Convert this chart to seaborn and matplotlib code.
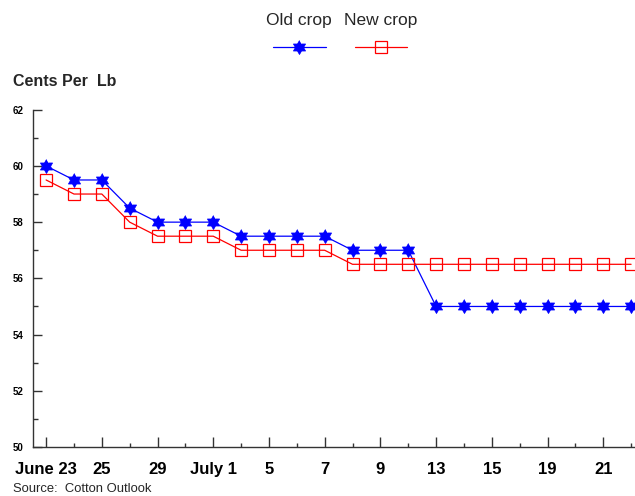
import numpy as np
import matplotlib
matplotlib.use('Agg')
import matplotlib.pyplot as plt
from matplotlib.lines import Line2D
from matplotlib.ticker import MultipleLocator
import pandas as pd
import seaborn as sns

# trading days shown on the axis
days = ['June 23', '24', '25', '26', '29', '30', 'July 1', '2', '5', '6', '7',
        '8', '9', '12', '13', '14', '15', '16', '19', '20', '21', '22']
old_crop = [60, 59.5, 59.5, 58.5, 58, 58, 58, 57.5, 57.5, 57.5, 57.5,
            57, 57, 57, 55, 55, 55, 55, 55, 55, 55, 55]
new_crop = [59.5, 59, 59, 58, 57.5, 57.5, 57.5, 57, 57, 57, 57,
            56.5, 56.5, 56.5, 56.5, 56.5, 56.5, 56.5, 56.5, 56.5, 56.5, 56.5]

df = pd.DataFrame({'pos': np.arange(len(days)), 'day': days,
                   'Old crop': old_crop, 'New crop': new_crop})

sns.set_style('ticks')
plt.rcParams['font.family'] = ['Liberation Sans', 'DejaVu Sans']

# six pointed star (hexagram) marker outline
ang = np.pi / 2 + np.arange(12) * np.pi / 6
rad = np.where(np.arange(12) % 2 == 0, 1.0, 1 / np.sqrt(3))
star = list(zip(rad * np.cos(ang), rad * np.sin(ang)))

fig = plt.figure(figsize=(6.35, 4.96), dpi=100)
ax = fig.add_axes([0.052, 0.0988, 0.948, 0.680])

sns.lineplot(data=df, x='pos', y='Old crop', ax=ax, color='#0000ff', lw=0.9,
             marker=star, ms=10, mfc='#0000ff', mec='#0000ff', mew=0.6)
sns.lineplot(data=df, x='pos', y='New crop', ax=ax, color='#ff0000', lw=0.9,
             marker='s', ms=9, mfc='none', mec='#ff0000', mew=0.9)

ax.set_xlim(-0.47, 21.14)
ax.set_ylim(50, 62)
ax.set_xticks(df['pos'][::2])
ax.set_xticklabels(days[::2], fontsize=12, fontweight='bold')
ax.set_xticks(df['pos'][1::2], minor=True)
ax.yaxis.set_major_locator(MultipleLocator(2))
ax.yaxis.set_minor_locator(MultipleLocator(1))
for lab in ax.get_yticklabels():
    lab.set_fontsize(7)
    lab.set_fontweight('bold')
ax.tick_params(axis='both', which='both', direction='in', colors='#333333',
               width=1)
ax.tick_params(axis='x', which='major', length=7, pad=11, labelcolor='black')
ax.tick_params(axis='x', which='minor', length=3)
ax.tick_params(axis='y', which='major', length=6.5, pad=7, labelcolor='black')
ax.tick_params(axis='y', which='minor', length=3.5)
ax.set_xlabel('')
ax.set_ylabel('')
sns.despine(ax=ax)
for s in ['left', 'bottom']:
    ax.spines[s].set_color('#333333')
    ax.spines[s].set_linewidth(1)

fig.text(13 / 635, 1 - 81 / 496, 'Cents Per  Lb', fontsize=11.5,
         fontweight='bold', va='center', ha='left')
fig.text(13 / 635, 1 - 489 / 496, 'Source:  Cotton Outlook', fontsize=9.4,
         va='center', ha='left')

# legend: labels above line handles
fig.text(299 / 635, 1 - 20 / 496, 'Old crop', fontsize=12.5, ha='center',
         va='center')
fig.text(381 / 635, 1 - 20 / 496, 'New crop', fontsize=12.5, ha='center',
         va='center')
ly = 1 - 47 / 496
fig.add_artist(Line2D([273 / 635, 326 / 635], [ly, ly], color='#0000ff', lw=0.9))
fig.add_artist(Line2D([299 / 635], [ly], marker=star, ms=10, mfc='#0000ff',
                      mec='#0000ff', mew=0.6, ls='none'))
fig.add_artist(Line2D([355 / 635, 407 / 635], [ly, ly], color='#ff0000', lw=0.9))
fig.add_artist(Line2D([381 / 635], [ly], marker='s', ms=9, mfc='none',
                      mec='#ff0000', mew=0.9, ls='none'))

fig.savefig('out.png', dpi=100)
